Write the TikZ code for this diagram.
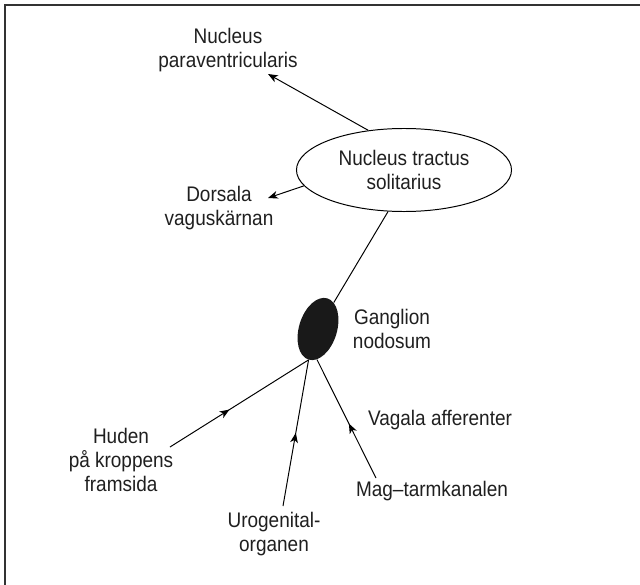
\documentclass[tikz,border=0pt]{standalone}
\usepackage{fontspec}
\setmainfont{Liberation Sans}[FakeStretch=0.9]
\usetikzlibrary{shapes.geometric, arrows.meta, decorations.markings}

\begin{document}
\begin{tikzpicture}[x=0.025cm, y=-0.025cm,
    txt/.style={font=\fontsize{15}{17}\selectfont, text=black!88, align=center, inner sep=0pt},
    ptr/.style={line width=0.7pt, -{Stealth[length=7pt, width=5.5pt, inset=2pt]}},
    feed/.style={line width=0.7pt, postaction={decorate},
      decoration={markings, mark=at position #1 with {\arrow{Stealth[length=7pt, width=5.5pt, inset=2pt]}}}}]
      \useasboundingbox (0,0) rectangle (640,585);
      \draw[line width=1.2pt, black!80] (5,585) -- (5,5) -- (640,5);

      \node[txt] (npv) at (228,50) {Nucleus\\paraventricularis};
      \node[txt, draw, ellipse, line width=0.7pt, minimum width=5.375cm, minimum height=2.075cm] (nts) at (404,170) {Nucleus tractus\\solitarius};
      \node[txt] (dvk) at (219,208) {Dorsala\\vaguskärnan};

      \node[ellipse, fill=black!90, minimum width=0.95cm, minimum height=1.6cm, inner sep=0pt, rotate=-17] (gn) at (318,329) {};
      \node[txt] (gnl) at (392,329) {Ganglion\\nodosum};

      \node[txt] (vag) at (440,420) {Vagala afferenter};
      \node[txt] (mtk) at (432,491) {Mag–tarmkanalen};
      \node[txt] (ugo) at (274,534) {Urogenital-\\organen};
      \node[txt] (hud) at (121,460) {Huden\\på kroppens\\framsida};

      % free ends of the connectors
      \coordinate (npvtip) at (268,74);
      \coordinate (dvktip) at (268,198);
      \coordinate (hudend) at (170,447);
      \coordinate (ugoend) at (283,506);
      \coordinate (mtkend) at (376,478);

      \draw[ptr] (nts.132) -- (npvtip);
      \draw[ptr] (nts.189) -- (dvktip);
      \draw[line width=0.7pt] (nts.249) -- (gn);

      \draw[feed=0.43] (hudend) -- (gn.south);
      \draw[feed=0.5] (ugoend) -- (gn.south);
      \draw[feed=0.46] (mtkend) -- (gn.-75);
\end{tikzpicture}
\end{document}
